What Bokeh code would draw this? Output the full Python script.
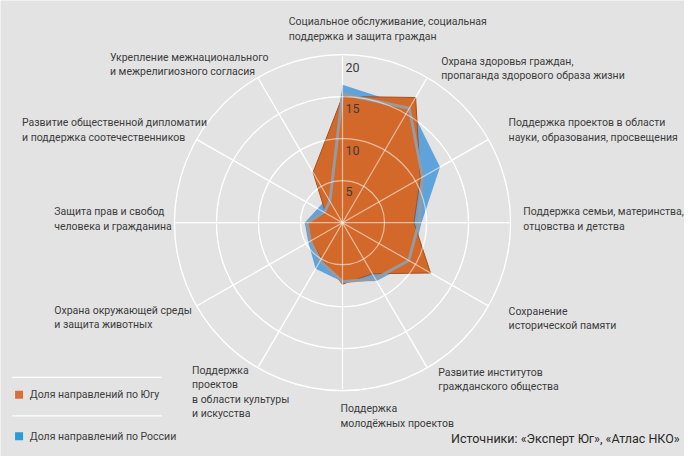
import numpy as np
from bokeh.plotting import figure
from bokeh.models import Range1d
from bokeh.core.properties import value
from bokeh.embed import file_html
from bokeh.resources import INLINE

# Radar chart: share of NGO grant directions, South vs Russia

categories = [
    "Социальное обслуживание, социальная\nподдержка и защита граждан",
    "Охрана здоровья граждан,\nпропаганда здорового образа жизни",
    "Поддержка проектов в области\nнауки, образования, просвещения",
    "Поддержка семьи, материнства,\nотцовства и детства",
    "Сохранение\nисторической памяти",
    "Развитие институтов\nгражданского общества",
    "Поддержка\nмолодёжных проектов",
    "Поддержка\nпроектов\nв области культуры\nи искусства",
    "Охрана окружающей среды\nи защита животных",
    "Защита прав и свобод\nчеловека и гражданина",
    "Развитие общественной дипломатии\nи поддержка соотечественников",
    "Укрепление межнационального\nи межрелигиозного согласия",
]
south = [15.2, 17.4, 10.7, 8.5, 12.1, 7.1, 7.4, 5.0, 4.3, 4.1, 2.3, 7.0]
russia = [16.6, 16.1, 13.4, 9.4, 9.5, 8.1, 7.1, 6.4, 4.7, 4.5, 3.4, 3.5]
russia_line = [15.5, 15.9, 11.0, 9.1, 9.1, 7.8, 7.1, 5.3, 4.4, 4.2, 2.5, 3.0]
rings = [5, 10, 15, 20]
ring_labels = ["5", "10", "15", "20"]
legend_labels = ["Доля направлений по Югу", "Доля направлений по России"]
source_text = "Источники: «Эксперт Юг», «Атлас НКО»"

# layout, measured on a 700x472 frame
PX = 8.6          # frame pixels per unit
CX, CY = 350, 230  # centre of the radar in the frame
label_pos = [(295, 15), (451, 56), (520, 120), (535, 212), (520, 315), (448, 378),
             (348, 416), (196, 376), (55, 314), (55, 212), (22, 120), (112, 52)]

FONT = value("Roboto")
BG = "#e3e3e3"
TXT = "#3c3c3c"


def px(x):
    return (x - CX) / PX


def py(y):
    return (CY - y) / PX


angles = np.deg2rad(90 - 30 * np.arange(len(categories)))


def polar(vals):
    v = np.asarray(vals, dtype=float)
    return list(v * np.cos(angles)), list(v * np.sin(angles))


p = figure(width=684, height=456, output_backend="svg", toolbar_location=None,
           x_range=Range1d(px(0), px(700)), y_range=Range1d(py(472), py(0)),
           min_border=0)
p.axis.visible = False
p.grid.visible = False
p.outline_line_color = None
p.background_fill_color = BG
p.border_fill_color = BG


def draw_grid(alpha):
    p.circle(x=[0] * len(rings), y=[0] * len(rings), radius=rings,
             fill_color=None, line_color="white", line_width=1.2, line_alpha=alpha)
    p.segment(x0=0, y0=0, x1=list(20 * np.cos(angles)), y1=list(20 * np.sin(angles)),
              line_color="white", line_width=1.2, line_alpha=alpha)


draw_grid(1.0)

bx, by = polar(russia)
p.patch(bx, by, fill_color="#5fa3dc", line_color=None)

ox, oy = polar(south)
p.patch(ox, oy, fill_color="#d2692a", line_color="#a4501f", line_width=1)

gx, gy = polar(russia_line)
p.line(gx + gx[:1], gy + gy[:1], line_color="#969ba1", line_width=3)

draw_grid(0.55)

# ring values
p.text(x=[px(353)] * len(rings), y=[r - 11 / PX for r in rings], text=ring_labels,
       text_font=FONT, text_font_size="12.5px", text_color=TXT,
       text_baseline="middle", text_align="left")

# category labels
p.text(x=[px(a) for a, b in label_pos], y=[py(b) for a, b in label_pos], text=categories,
       text_font=FONT, text_font_size="10.5px", text_color=TXT,
       text_baseline="top", text_align="left", text_line_height=1.12)

# legend
p.segment(x0=[px(12)] * 2, y0=[py(390), py(430)], x1=[px(165)] * 2, y1=[py(390), py(430)],
          line_color="white", line_width=1.2)
p.scatter(x=[px(19), px(19)], y=[py(408), py(451)], marker="square", size=8,
          fill_color=["#d8703d", "#2a9ad8"], line_color=None)
p.text(x=[px(30), px(30)], y=[py(408), py(451)], text=legend_labels,
       text_font=FONT, text_font_size="10.5px", text_color=TXT,
       text_baseline="middle", text_align="left")

p.text(x=[px(695)], y=[py(453)], text=[source_text], text_font=FONT,
       text_font_size="12.5px", text_color="#2a2a2a", text_baseline="middle",
       text_align="right")

open("out.html", "w").write(file_html(p, INLINE))
